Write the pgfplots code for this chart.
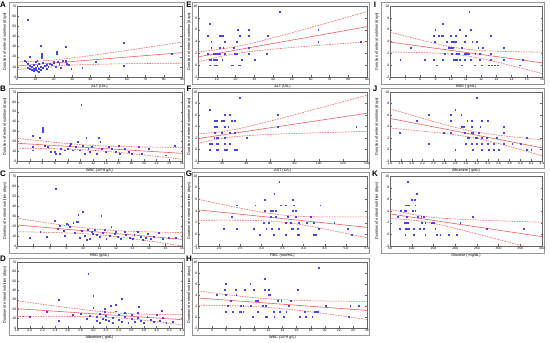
\documentclass[border=0pt]{standalone}
\usepackage{fontspec}
\setmainfont{Liberation Sans}
\usepackage{pgfplots}
\pgfplotsset{compat=1.18}
\definecolor{pt}{RGB}{70,70,240}
\definecolor{rl}{RGB}{240,90,90}
\definecolor{fr}{RGB}{150,150,150}
\pgfplotsset{
  panel/.style={scale only axis, anchor=south west,
    axis line style={draw=black!60, line width=0.4pt},
    tick style={black!60, line width=0.3pt}, major tick length=1.5pt, tick align=inside,
    /pgf/number format/assume math mode=true,
    ticklabel style={font=\fontsize{3.4}{3.6}\selectfont, inner sep=0.6pt},
    label style={font=\fontsize{3.8}{4}\selectfont},
    ylabel={Duration of enteral nutrition (days)},
    xlabel style={at={(axis description cs:0.5,0)}, anchor=center, yshift=-9.5pt},
    every axis plot/.append style={line width=0.5pt},
  },
  left/.style={panel, width=165pt, ymin=0, ymax=70, ytick distance=10,
    ylabel style={at={(axis description cs:-0.073,0.5)}, anchor=center}},
  mid/.style={panel, width=169pt, ymin=-2, ymax=10, ytick distance=2,
    ylabel style={at={(axis description cs:-0.053,0.5)}, anchor=center}},
  right/.style={panel, width=152pt, ymin=-2, ymax=10, ytick distance=2,
    ylabel style={at={(axis description cs:-0.086,0.5)}, anchor=center}},
  pts/.style={only marks, mark=square*, mark size=0.42pt, color=pt, mark options={line width=0.2pt}},
  reg/.style={no marks, color=rl, line width=0.6pt},
  band/.style={no marks, color=rl, smooth, dash pattern=on 1.6pt off 1pt, line width=0.55pt},
  dec/.style={xticklabel style={/pgf/number format/.cd, fixed, fixed zerofill, precision=1}},
}
\begin{document}
\begin{tikzpicture}
\useasboundingbox (0,0) rectangle (550pt,343pt);
% frames
\foreach \yb/\yt in {259/341,175/255,90/171,8/85}{
  \draw[fr, line width=0.5pt] (9pt,\yb pt) rectangle (184pt,\yt pt);
  \draw[fr, line width=0.5pt] (192pt,\yb pt) rectangle (369pt,\yt pt);
}
\foreach \yb/\yt in {259/341,175/255,90/171}{
  \draw[fr, line width=0.5pt] (381pt,\yb pt) rectangle (544pt,\yt pt);
}
% ---------- A ----------
\begin{axis}[left, at={(17pt,266pt)}, height=71pt, xmin=0, xmax=90, xtick distance=10, xlabel={ALT (U/L)}]
\addplot[pts] coordinates {(5,15)(6,13)(6,9)(7,8)(7,20)(8,10)(8,7)(9,12)(9,8)(10,15)(10,9)(10,7)(11,11)(11,6)(12,13)(12,8)(13,10)(13,7)(14,14)(14,9)(15,11)(16,8)(17,10)(18,13)(19,12)(20,14)(20,15)(21,10)(22,15)(23,13)(24,9)(25,16)(27,13)(28,12)(6,57)(12.7,31)(13.6,23)(13.6,21.5)(13.6,19)(21.5,25)(21.5,23)(26.4,30)(26.4,16.5)(26.4,15)(29.5,8)(35.5,9)(42.7,15.5)(58,34)(58,11)(84.5,23)(4,16)(11,16)(16,12)(12,5)(9,6)(7,11)};
\addplot[reg] coordinates {(0,10.9)(90,24)};
\addplot[band] coordinates {(0,14.7)(10,15.52)(20,16.85)(30,18.76)(45,22.31)(60,26.23)(75,30.28)(90,34.4)};
\addplot[band] coordinates {(0,7.1)(10,9.2)(20,10.77)(30,11.78)(45,12.59)(60,13.05)(75,13.36)(90,13.6)};
\end{axis}
% ---------- B ----------
\begin{axis}[left, at={(17pt,182pt)}, height=69pt, xmin=0, xmax=26, xtick distance=2, xlabel={WBC (10\textasciicircum 9 g/L)}]
\addplot[pts] coordinates {(2.5,26)(2.4,14.6)(2.5,11)(3.5,24)(4,34)(4,32)(4,30)(4.3,16)(4.8,14.6)(5.3,9.5)(5.9,9.5)(6.1,7.8)(6.7,7.8)(6.9,13)(7.5,11)(8,13)(8.3,16)(8.5,18)(8.8,11)(9.3,14.6)(9.6,20)(9.9,11)(10.1,57)(10.4,16)(10.7,7.8)(10.9,24)(11.2,13)(11.5,9.5)(11.7,14.6)(12.3,11)(12.5,7.8)(12.8,24)(13.1,20)(13.3,13)(13.9,9.5)(14.4,14.6)(14.9,13)(15.5,9.5)(16,16)(16.2,7.8)(17,13)(17.6,9.5)(18.1,7.8)(18.6,11)(19.2,14.6)(19.7,7.8)(20.8,13)(23.4,6)(24.8,16)};
\addplot[reg] coordinates {(0,18)(26,7.8)};
\addplot[band] coordinates {(0,23)(4,20.2)(8,17.69)(12,15.81)(16,14.75)(20,14.22)(26,13.8)};
\addplot[band] coordinates {(0,13)(4,12.66)(8,12.03)(12,10.79)(16,8.71)(20,6.1)(26,1.8)};
\end{axis}
% ---------- C ----------
\begin{axis}[left, at={(17pt,97pt)}, height=70pt, xmin=6, xmax=16, xtick distance=1, xlabel={HBG (g/dL)}]
\addplot[pts] coordinates {(8.35,57.5)(10.0,34)(9.7,31)(11.1,30)(9.4,23)(9.6,24)(9.7,24.5)(8.3,25)(9.1,21.5)(9.2,19)(9.0,22.5)(11.7,19.5)(10.3,16)(10.5,14)(10.7,16)(8.45,17.5)(8.6,20)(8.8,15)(6.75,8.5)(7.4,14)(7.8,9)(12.5,14)(13.8,8)(14.3,9)(14.6,13)(15.6,8)(15.2,8)(13.1,11)(12.8,8)(9.5,13)(9.8,8)(10.1,10)(10.4,7)(10.8,11)(11.0,9)(11.2,13)(11.4,7)(11.6,10)(11.9,12)(12.1,9)(12.3,7)(12.6,11)(13.0,7)(13.3,14)(13.5,9)(13.9,12)(14.1,7)(10.2,6)(9.9,15)(10.6,12)(11.3,16)(8.9,10)(12.0,14)(13.6,6)(14.8,7)};
\addplot[reg] coordinates {(6,21)(16,6.7)};
\addplot[band] coordinates {(6,27.7)(7.5,23.93)(9,20.36)(10.5,17.34)(12,15.39)(13.5,14.36)(15,13.73)(16,13.4)};
\addplot[band] coordinates {(6,14.3)(7.5,13.79)(9,13.06)(10.5,11.8)(12,9.45)(13.5,6.2)(15,2.53)(16,0)};
\end{axis}
% ---------- D ----------
\begin{axis}[left, dec, at={(17pt,15pt)}, height=66pt, xmin=1.8, xmax=4.4, xtick distance=0.2, xlabel={Albumine ( g/dL)}]
\addplot[pts] coordinates {(2.92,58)(3.0,34)(3.0,22)(2.46,30)(2.46,8)(3.45,31)(3.35,24.5)(3.27,24)(3.18,20.5)(3.18,17.5)(3.72,23)(4.08,18.5)(2.0,12.5)(2.27,17)(2.67,14)(2.8,15)(2.9,10)(3.05,12)(3.05,8)(3.1,15)(3.1,6)(3.15,10)(3.2,13)(3.25,8)(3.3,11)(3.3,6)(3.4,14)(3.4,9)(3.45,7)(3.5,12)(3.55,6)(3.6,10)(3.6,14)(3.65,7)(3.7,11)(3.75,8)(3.8,6)(3.85,12)(3.9,9)(3.95,7)(4.05,8)(4.1,11)(4.15,6)(4.25,7)(3.5,16)(3.2,9)(2.95,13)(3.35,18)(4.0,14)(3.7,16)};
\addplot[reg] coordinates {(1.8,20.5)(4.4,8.8)};
\addplot[band] coordinates {(1.8,28.8)(2.2,25.14)(2.6,21.58)(3.0,18.29)(3.4,15.8)(3.8,14.69)(4.1,14.42)(4.4,14.34)};
\addplot[band] coordinates {(1.8,12.2)(2.2,12.26)(2.6,12.22)(3.0,11.91)(3.4,10.8)(3.8,8.31)(4.1,5.88)(4.4,3.26)};
\end{axis}
% ---------- E ----------
\begin{axis}[mid, at={(198pt,266pt)}, height=71pt, xmin=0, xmax=90, xtick distance=10, xlabel={ALT (U/L)}]
\addplot[pts] coordinates {(43.3,9)(6.2,7)(21,6)(27,6)(64,6)(5,5)(11.6,5)(12.5,5)(13.4,5)(22.3,5)(27,5)(37,5)(7,4)(14.3,4)(20.5,4)(64,4)(86.5,4)(7,3)(11.6,3)(13.4,3)(19,3)(27,3)(5.3,2)(8,2)(9,2)(9.8,2)(10.7,2)(11.6,2)(14.3,2)(19.6,2)(20.5,2)(27,2)(36.5,2)(6.2,1)(7,1)(8,1)(9,1)(9.8,1)(12.8,1)(23,1)(30,1)(6.2,0)(9,0)(9.8,0)(17.8,0)(18.7,0)(21.4,0)(22.3,0)};
\addplot[reg] coordinates {(0,1.4)(90,6.5)};
\addplot[band] coordinates {(0,2.25)(10,2.61)(20,3.12)(30,3.81)(45,5.05)(60,6.36)(75,7.7)(90,9.05)};
\addplot[band] coordinates {(0,0.55)(10,1.33)(20,1.95)(30,2.39)(45,2.85)(60,3.24)(75,3.6)(90,3.95)};
\end{axis}
% ---------- F ----------
\begin{axis}[mid, at={(198pt,182pt)}, height=69pt, xmin=0, xmax=140, xtick distance=20, xlabel={AST (U/L)}]
\addplot[pts] coordinates {(34.8,9)(9.7,7)(21.7,6)(26.5,6)(66,6)(14,5)(15.3,5)(19.5,5)(21,5)(28,5)(30,5)(14,4)(15.3,4)(21.7,4)(25,4)(66,4)(131,4)(14,3)(19.5,3)(26.5,3)(30,3)(13.4,2)(15.3,2)(16.7,2)(21.7,2)(40,2)(9.7,1)(11,1)(15.3,1)(16.7,1)(22.3,1)(26.5,1)(9.7,0)(15.3,0)(16.7,0)(22.3,0)(23.7,0)(30.6,0)(32,0)};
\addplot[reg] coordinates {(0,1.9)(140,6.3)};
\addplot[band] coordinates {(0,2.73)(15,2.99)(30,3.47)(50,4.41)(70,5.49)(90,6.61)(115,8.02)(140,9.45)};
\addplot[band] coordinates {(0,1.08)(15,1.75)(30,2.22)(50,2.53)(70,2.71)(90,2.85)(115,3.0)(140,3.15)};
\end{axis}
% ---------- G ----------
\begin{axis}[mid, dec, at={(198pt,97pt)}, height=70pt, xmin=1.5, xmax=5.5, xtick distance=0.5, xlabel={RBC (mol/mL)}]
\addplot[pts] coordinates {(3.42,9)(3.3,7)(3.07,6)(3.73,6)(2.41,5)(2.85,5)(3.45,5)(3.57,5)(3.77,5)(4.39,5)(3.07,4)(3.21,4)(3.27,4)(3.33,4)(3.73,4)(3.81,4)(2.3,3)(3.21,3)(3.34,3)(3.63,3)(3.82,3)(4.16,3)(3.05,2)(3.17,2)(3.57,2)(3.69,2)(3.89,2)(4.08,2)(4.24,2)(4.72,2)(2.11,1)(2.41,1)(2.81,1)(3.11,1)(3.25,1)(3.41,1)(3.71,1)(3.74,1)(3.85,1)(4.36,1)(5.04,1)(2.95,0)(3.29,0)(3.57,0)(3.85,0)(3.89,0)(4.24,0)(4.28,0)(5.14,0)};
\addplot[reg] coordinates {(1.5,4.2)(5.5,1.2)};
\addplot[band] coordinates {(1.5,6.0)(2.0,5.23)(2.5,4.49)(3.0,3.81)(3.5,3.3)(4.0,3.06)(4.5,2.99)(5.0,2.98)(5.5,3.0)};
\addplot[band] coordinates {(1.5,2.4)(2.0,2.42)(2.5,2.41)(3.0,2.34)(3.5,2.1)(4.0,1.59)(4.5,0.91)(5.0,0.17)(5.5,-0.6)};
\end{axis}
% ---------- H ----------
\begin{axis}[mid, at={(198pt,15pt)}, height=66pt, xmin=2, xmax=26, xtick distance=2, xlabel={WBC (10\textasciicircum 9 g/L)}]
\addplot[pts] coordinates {(19.1,9)(11.5,7)(5.9,6)(9.4,6)(5.8,5)(7.3,5)(8.6,5)(9.9,5)(11.5,5)(12,5)(16.1,5)(4.7,4)(5.9,4)(6,4)(7.4,4)(12,4)(12.2,4)(6.6,3)(10.2,3)(10.5,3)(13.3,3)(13.8,3)(15.2,3)(6.2,2)(8.1,2)(8.4,2)(9.5,2)(11.2,2)(11.6,2)(14.9,2)(20.1,2)(23.6,2)(24.8,2)(5.9,1)(6.9,1)(7.9,1)(8.1,1)(8.4,1)(10.5,1)(12.7,1)(13.6,1)(14.5,1)(17.1,1)(18.5,1)(18.8,1)(19,1)(9.7,0)(11.6,0)(11.8,0)(12.8,0)(14.2,0)(16.4,0)(17.3,0)(18.2,0)(23.4,0)};
\addplot[reg] coordinates {(2,3.45)(26,1.2)};
\addplot[band] coordinates {(2,4.75)(6,4.08)(10,3.51)(14,3.14)(18,2.95)(22,2.88)(26,2.85)};
\addplot[band] coordinates {(2,2.15)(6,2.08)(10,1.89)(14,1.51)(18,0.95)(22,0.28)(26,-0.45)};
\end{axis}
% ---------- I ----------
\begin{axis}[right, at={(390pt,266pt)}, height=71pt, xmin=6, xmax=16, xtick distance=1, xlabel={HBG ( g/dL)}]
\addplot[pts] coordinates {(11.2,9)(9.47,7)(8.97,6)(10.6,6)(11.3,6)(8.86,5)(9.2,5)(9.36,5)(9.45,5)(9.96,5)(10.3,5)(11,5)(12.6,5)(8.92,4)(9.7,4)(10.07,4)(10.17,4)(10.3,4)(10.9,4)(11.4,4)(11.7,4)(7.36,3)(9.85,3)(9.96,3)(10.1,3)(10.7,3)(11.8,3)(12.1,3)(13.5,3)(9.6,2)(10.07,2)(10.4,2)(10.5,2)(10.9,2)(11.05,2)(11.16,2)(11.6,2)(11.9,2)(12.6,2)(6.66,1)(8.26,1)(8.86,1)(9.45,1)(10.17,1)(10.3,1)(10.4,1)(10.6,1)(10.9,1)(11.3,1)(11.9,1)(12.6,1)(13.5,1)(14.7,1)(9.08,0)(10.7,0)(11.56,0)(12,0)(12.5,0)(12.7,0)(12.9,0)(13.1,0)(14.5,0)};
\addplot[reg] coordinates {(6,3.9)(16,0.4)};
\addplot[band] coordinates {(6,5.57)(7.5,4.59)(9,3.66)(10.5,2.88)(12,2.48)(13.5,2.32)(15,2.24)(16,2.2)};
\addplot[band] coordinates {(6,2.23)(7.5,2.16)(9,2.04)(10.5,1.77)(12,1.12)(13.5,0.23)(15,-0.74)(16,-1.4)};
\end{axis}
% ---------- J ----------
\begin{axis}[right, dec, at={(390pt,182pt)}, height=69pt, xmin=1.6, xmax=4.4, xtick distance=0.2, xlabel={Albumine ( g/dL)}]
\addplot[pts] coordinates {(3.2,9)(2.8,7)(2.31,6)(2.71,6)(2.91,6)(2.09,5)(2.71,5)(3.02,5)(3.1,5)(3.29,5)(3.4,5)(2.92,4)(2.95,4)(3.1,4)(3.26,4)(3.69,4)(1.78,3)(2.58,3)(2.71,3)(2.98,3)(3.1,3)(3.12,3)(3.23,3)(3.69,3)(3.02,2)(3.05,2)(3.17,2)(3.2,2)(3.29,2)(3.38,2)(3.57,2)(4.12,2)(2.31,1)(3.0,1)(3.11,1)(3.2,1)(3.29,1)(3.4,1)(3.51,1)(3.69,1)(3.85,1)(4.0,1)(2.8,0)(3.12,0)(3.29,0)(3.42,0)(3.51,0)(3.6,0)(4.12,0)(4.2,0)};
\addplot[reg] coordinates {(1.6,5.4)(4.4,0.3)};
\addplot[band] coordinates {(1.6,7.08)(2.0,5.97)(2.4,4.88)(2.8,3.86)(3.2,3.04)(3.6,2.48)(4.0,2.06)(4.4,1.69)};
\addplot[band] coordinates {(1.6,3.73)(2.0,3.37)(2.4,3.0)(2.8,2.56)(3.2,1.94)(3.6,1.05)(4.0,0.0)(4.4,-1.09)};
\end{axis}
% ---------- K ----------
\begin{axis}[right, at={(390pt,97pt)}, height=70pt, xmin=50, xmax=400, xtick distance=50, xlabel={Glucose ( mg/dL)}]
\addplot[pts] coordinates {(90.8,9)(111.5,7)(100,6)(106,6)(84.6,5)(88.5,5)(92.3,5)(107.7,5)(74.6,4)(83,4)(86,4)(101.5,4)(107.7,4)(67.7,3)(88.5,3)(113.8,3)(121.5,3)(126.9,3)(240.8,3)(83,2)(86,2)(90.8,2)(123,2)(130.8,2)(146,2)(150,2)(211.5,2)(73,1)(84.6,1)(88.5,1)(92.3,1)(104,1)(119,1)(127,1)(153.8,1)(273,1)(357.7,1)(84.6,0)(104,0)(130.8,0)(157.7,0)(165.4,0)(184.6,0)(203.8,0)};
\addplot[reg] coordinates {(50,3.5)(400,-0.4)};
\addplot[band] coordinates {(50,4.3)(100,3.44)(150,2.89)(200,2.63)(250,2.46)(300,2.32)(350,2.2)(400,2.07)};
\addplot[band] coordinates {(50,2.7)(100,2.44)(150,1.89)(200,1.03)(250,0.08)(300,-0.9)(350,-1.88)(400,-2.87)};
\end{axis}
% letters
\foreach \l/\x/\y in {A/3/338,B/3/254,C/3/169,D/3/84,E/189/338,F/189/254,G/189/169,H/189/84,I/375/338,J/375/254,K/375/169}{
  \node[font=\fontsize{8}{8}\selectfont\bfseries, inner sep=0pt] at (\x pt,\y pt) {\l};
}
\end{tikzpicture}
\end{document}
